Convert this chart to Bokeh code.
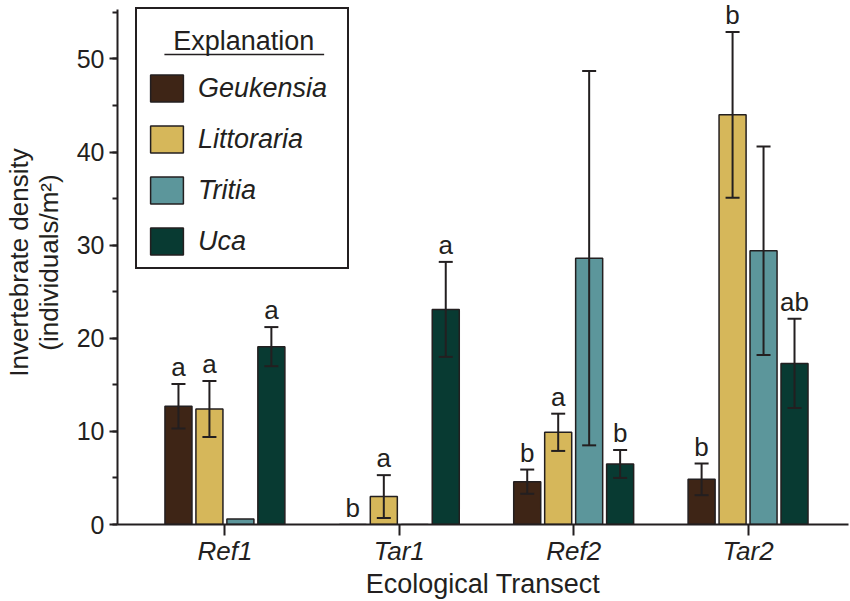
from bokeh.plotting import figure
from bokeh.models import (ColumnDataSource, Whisker, TeeHead, Legend, LegendItem, Label,
                          LabelSet, BoxAnnotation, FixedTicker, SingleIntervalTicker, Range1d)
from bokeh.core.properties import value
from bokeh.embed import file_html
from bokeh.resources import INLINE

# ---- data ----
transects = ["Ref1", "Tar1", "Ref2", "Tar2"]
species = ["Geukensia", "Littoraria", "Tritia", "Uca"]

geukensia = [12.7, 0.0, 4.6, 4.85]
littoraria = [12.4, 3.0, 9.9, 44.0]
tritia = [0.6, 0.0, 28.6, 29.4]
uca = [19.1, 23.1, 6.5, 17.3]

geukensia_se = [2.4, 0.0, 1.3, 1.7]
littoraria_se = [3.0, 2.3, 2.0, 8.9]
tritia_se = [0.0, 0.0, 20.1, 11.2]
uca_se = [2.1, 5.1, 1.5, 4.8]

geukensia_sig = ["a", "b", "b", "b"]
littoraria_sig = ["a", "a", "a", "b"]
tritia_sig = ["", "", "", ""]
uca_sig = ["a", "a", "b", "ab"]

means = [geukensia, littoraria, tritia, uca]
errors = [geukensia_se, littoraria_se, tritia_se, uca_se]
letters = [geukensia_sig, littoraria_sig, tritia_sig, uca_sig]
colors = ["#3e2516", "#d6b75a", "#5c969b", "#083a32"]

FONT = "Liberation Sans"
INK = "#231f20"
PITCH = 0.1776
BAR_W = 0.155
Y_TOP = 55.3

p = figure(width=850, height=601, output_backend="svg", toolbar_location=None,
           x_range=Range1d(-0.616, 3.576), y_range=Range1d(0, Y_TOP + 0.97),
           min_border_left=116, min_border_right=2, min_border_top=0, min_border_bottom=0)
p.xgrid.visible = False
p.ygrid.visible = False
p.outline_line_color = None
p.background_fill_color = "white"
p.border_fill_color = "white"

legend_items = []
for s, name in enumerate(species):
    xs = [g + (s - 1.5) * PITCH for g in range(len(transects))]
    src = ColumnDataSource(dict(x=xs, top=means[s]))
    r = p.vbar(x="x", top="top", width=BAR_W, bottom=0, source=src,
               fill_color=colors[s], line_color=INK, line_width=1.5)
    legend_items.append(LegendItem(label=name, renderers=[r]))

    ex, lo, up = [], [], []
    for x, m, e in zip(xs, means[s], errors[s]):
        if e > 0:
            ex.append(x); lo.append(m - e); up.append(m + e)
    esrc = ColumnDataSource(dict(x=ex, lower=lo, upper=up))
    w = Whisker(base="x", lower="lower", upper="upper", source=esrc, level="annotation",
                line_color=INK, line_width=2,
                upper_head=TeeHead(size=14, line_color=INK, line_width=2),
                lower_head=TeeHead(size=14, line_color=INK, line_width=2))
    p.add_layout(w)

    lx, ly, lt = [], [], []
    for x, m, e, t in zip(xs, means[s], errors[s], letters[s]):
        if t:
            lx.append(x); ly.append(m + e); lt.append(t)
    tsrc = ColumnDataSource(dict(x=lx, y=ly, t=lt))
    p.add_layout(LabelSet(x="x", y="y", text="t", source=tsrc, text_font=value(FONT),
                          text_font_size="26px", text_align="center",
                          text_baseline="alphabetic", y_offset=8, text_color=INK))

# ---- axes ----
p.xaxis.ticker = FixedTicker(ticks=list(range(len(transects))))
p.xaxis.major_label_overrides = {i: t for i, t in enumerate(transects)}
p.xaxis.minor_tick_line_color = None
p.xaxis.major_tick_out = 11
p.xaxis.major_tick_in = 0
p.xaxis.major_label_standoff = 0
p.xaxis.major_label_text_font = FONT
p.xaxis.major_label_text_font_style = "italic"
p.xaxis.major_label_text_font_size = "26px"
p.xaxis.axis_label = "Ecological Transect"
p.xaxis.axis_label_standoff = 0

p.yaxis.ticker = SingleIntervalTicker(interval=10, num_minor_ticks=2)
p.yaxis.bounds = (0, Y_TOP)
p.yaxis.major_tick_out = 8
p.yaxis.major_tick_in = 0
p.yaxis.minor_tick_out = 5
p.yaxis.minor_tick_in = 0
p.yaxis.major_label_standoff = 5
p.yaxis.major_label_text_font = FONT
p.yaxis.major_label_text_font_size = "25px"
p.yaxis.axis_label = "Invertebrate density\n(individuals/m\u00b2)"
p.yaxis.axis_label_standoff = 10
p.yaxis.axis_label_text_line_height = 1.0

for ax in (p.xaxis, p.yaxis):
    ax.axis_line_color = INK
    ax.axis_line_width = 2
    ax.major_tick_line_color = INK
    ax.major_tick_line_width = 2
    ax.minor_tick_line_width = 2
    ax.major_label_text_color = INK
    ax.axis_label_text_font = FONT
    ax.axis_label_text_font_style = "normal"
    ax.axis_label_text_font_size = "27px"
    ax.axis_label_text_color = INK
p.yaxis.minor_tick_line_color = INK
p.yaxis.axis_label_text_font_size = "26px"

# ---- legend ----
legend = Legend(items=legend_items, location=(18, 255), title=" ",
                title_text_font_size="27px", title_standoff=22,
                label_text_font=FONT, label_text_font_style="italic",
                label_text_font_size="27px", label_text_color=INK,
                glyph_width=41, glyph_height=34, label_height=34, label_width=140,
                spacing=17, padding=9, label_standoff=11, margin=0,
                border_line_color=INK, border_line_width=2, border_line_alpha=1,
                background_fill_alpha=0)
p.add_layout(legend, "center")

p.add_layout(Label(x=0.108, y=51.96, text="Explanation", text_align="center",
                   text_baseline="alphabetic", text_font=FONT, level="overlay",
                   text_font_size="27px", text_color=INK))
p.add_layout(BoxAnnotation(left=-0.347, right=0.569, bottom=50.38, top=50.54,
                           fill_color=INK, fill_alpha=1, line_color=None, level="overlay"))

open("out.html", "w").write(file_html(p, INLINE))
